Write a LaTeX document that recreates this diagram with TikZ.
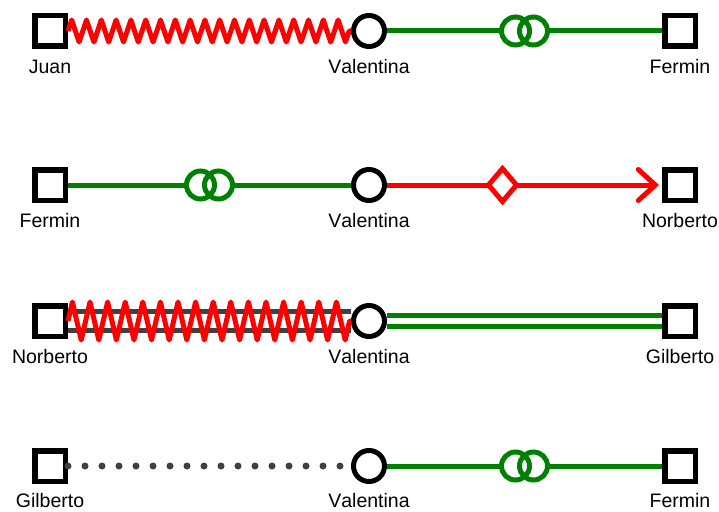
\documentclass[tikz,border=0pt]{standalone}
\usepackage{fontspec}
\setmainfont{Liberation Sans}[Kerning=Off]
\usetikzlibrary{shapes.geometric,decorations.pathmorphing,arrows.meta}

\definecolor{kgreen}{RGB}{0,128,0}
\definecolor{kgray}{RGB}{64,64,64}

\tikzset{
  male/.style={draw, line width=5.5pt, minimum size=30.5pt, inner sep=0pt, fill=white},
  female/.style={circle, draw, line width=5pt, minimum size=31pt, inner sep=0pt, fill=white},
  pname/.style={font=\fontsize{19.5}{22}\selectfont, anchor=base, inner sep=0pt},
  hostile/.style={red, line width=5pt, line join=round, decorate, decoration={zigzag, segment length=14.8pt, amplitude=11pt}},
  hostilebig/.style={red, line width=5pt, line join=round, decorate, decoration={zigzag, segment length=17.6pt, amplitude=19pt}},
  harmony/.style={kgreen, line width=5pt},
  closeline/.style={kgreen, line width=5pt, double=white, double distance=5.5pt},
  grayline/.style={kgray, line width=5.5pt, double=white, double distance=13.5pt},
  distant/.style={kgray, line width=7pt, line cap=round, dash pattern=on 0pt off 17pt},
  abuse/.style={red, line width=5pt, -{Straight Barb[length=17pt, width=31pt, line cap=round]}, shorten >=3pt},
  diam/.style={diamond, draw=red, fill=white, line width=5pt, inner sep=0pt, minimum width=30pt, minimum height=35pt}
}

\begin{document}
\begin{tikzpicture}[x=1pt, y=-1pt]
  \useasboundingbox (0,0) rectangle (719,511);

  % row 1
  \node[male] (juan) at (50,31) {};
  \node[female] (val1) at (369,31) {};
  \node[male] (fer1) at (680,31) {};
  \draw[hostile] (juan) -- (val1);
  \draw[harmony] (val1) -- coordinate[midway] (m1) (fer1);
  \filldraw[harmony, fill=white] ([xshift=-9pt]m1) circle[radius=14pt] ([xshift=9pt]m1) circle[radius=14pt];
  \node[pname] (juanL) at ([yshift=-42pt]juan) {Juan};
  \node[pname] (val1L) at ([yshift=-42pt]val1) {Valentina};
  \node[pname] (fer1L) at ([yshift=-42pt]fer1) {Fermin};

  % row 2
  \node[male] (fer2) at (50,185) {};
  \node[female] (val2) at (369,185) {};
  \node[male] (nor2) at (680,185) {};
  \draw[harmony] (fer2) -- coordinate[midway] (m2) (val2);
  \filldraw[harmony, fill=white] ([xshift=-9pt]m2) circle[radius=14pt] ([xshift=9pt]m2) circle[radius=14pt];
  \draw[abuse] (val2) -- node[pos=.42, diam] (d2) {} (nor2);
  \node[pname] (fer2L) at ([yshift=-42pt]fer2) {Fermin};
  \node[pname] (val2L) at ([yshift=-42pt]val2) {Valentina};
  \node[pname] (nor2L) at ([yshift=-42pt]nor2) {Norberto};

  % row 3
  \node[male] (nor3) at (50,321) {};
  \node[female] (val3) at (369,321) {};
  \node[male] (gil3) at (680,321) {};
  \draw[grayline] (nor3) -- (val3);
  \draw[hostilebig] (nor3) -- (val3);
  \draw[closeline] (val3) -- (gil3);
  \node[pname] (nor3L) at ([yshift=-42pt]nor3) {Norberto};
  \node[pname] (val3L) at ([yshift=-42pt]val3) {Valentina};
  \node[pname] (gil3L) at ([yshift=-42pt]gil3) {Gilberto};

  % row 4
  \node[male] (gil4) at (50,466) {};
  \node[female] (val4) at (369,466) {};
  \node[male] (fer4) at (680,466) {};
  \draw[distant] (gil4) -- (val4);
  \draw[harmony] (val4) -- coordinate[midway] (m4) (fer4);
  \filldraw[harmony, fill=white] ([xshift=-9pt]m4) circle[radius=14pt] ([xshift=9pt]m4) circle[radius=14pt];
  \node[pname] (gil4L) at ([yshift=-41pt]gil4) {Gilberto};
  \node[pname] (val4L) at ([yshift=-41pt]val4) {Valentina};
  \node[pname] (fer4L) at ([yshift=-41pt]fer4) {Fermin};
\end{tikzpicture}
\end{document}
